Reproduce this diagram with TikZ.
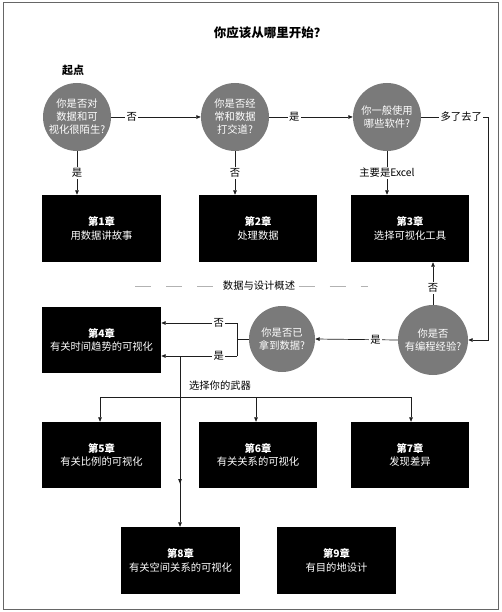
\documentclass[tikz,border=0pt]{standalone}
\usepackage{fontspec}
\setmainfont{Noto Sans CJK SC}
\usetikzlibrary{arrows.meta,calc}
\definecolor{qgray}{RGB}{122,122,122}
\definecolor{lnk}{RGB}{30,30,30}
\begin{document}
\begin{tikzpicture}[x=1pt,y=-1pt,
  q/.style={circle, fill=qgray, text=white, minimum size=68pt, inner sep=0pt, align=center, font=\fontsize{10.3}{13}\selectfont},
  chap/.style={rectangle, fill=black, text=white, minimum width=119pt, minimum height=67pt, inner sep=0pt, align=center, font=\fontsize{10.3}{13.5}\selectfont},
  conn/.style={draw=lnk, line width=0.7pt},
  arr/.style={conn, -{Triangle[length=4.5pt,width=3.6pt]}},
  lab/.style={fill=white, inner sep=1.5pt, font=\fontsize{10.3}{12}\selectfont}
]
\useasboundingbox (0,0) rectangle (501,612);
\draw[draw=black!60, line width=1pt] (3,2.5) rectangle (498.5,609);

\node[font=\fontsize{12.5}{14}\selectfont\bfseries] (title) at (270,33) {你应该从哪里开始？};
\node[font=\fontsize{11}{13}\selectfont\bfseries] (start) at (73,70) {起点};

% question circles
\node[q] (c1) at (77,117) {你是否对\\数据和可\\视化很陌生?};
\node[q] (c2) at (235,117) {你是否经\\常和数据\\打交道?};
\node[q] (c3) at (387,117) {你一般使用\\哪些软件?};
\node[q, minimum size=70pt] (c4) at (433,340) {你是否\\有编程经验?};
\node[q, minimum size=66pt] (c5) at (282,339) {你是否已\\拿到数据?};

% chapter boxes
\node[chap] (b1) at (101.5,228.5) {{\bfseries 第1章}\\用数据讲故事};
\node[chap, minimum width=118pt] (b2) at (258,228.5) {{\bfseries 第2章}\\处理数据};
\node[chap, minimum width=118pt] (b3) at (410,228.5) {{\bfseries 第3章}\\选择可视化工具};
\node[chap, minimum height=66pt] (b4) at (101.5,340) {{\bfseries 第4章}\\有关时间趋势的可视化};
\node[chap, minimum height=66pt] (b5) at (101.5,455) {{\bfseries 第5章}\\有关比例的可视化};
\node[chap, minimum width=118pt, minimum height=66pt] (b6) at (258,455) {{\bfseries 第6章}\\有关关系的可视化};
\node[chap, minimum width=118pt, minimum height=66pt] (b7) at (410,455) {{\bfseries 第7章}\\发现差异};
\node[chap] (b8) at (180.5,560.5) {{\bfseries 第8章}\\有关空间关系的可视化};
\node[chap] (b9) at (336.5,560.5) {{\bfseries 第9章}\\有目的地设计};

% section label with dashes
\node[font=\fontsize{10.3}{12}\selectfont] (sec) at (259,286) {数据与设计概述};
\coordinate (dl1) at (135,286);
\coordinate (dr2) at (368,286);
\draw[black!30, line width=0.7pt, dash pattern=on 16pt off 15pt] (dl1) -- (sec.west);
\draw[black!30, line width=0.7pt, dash pattern=on 16pt off 15pt] (sec.east) -- (dr2);

% top row connectors
\draw[arr] (c1.east) -- node[lab, pos=0.23] {否} (c2.west);
\draw[arr] (c2.east) -- node[lab, pos=0.3] {是} (c3.west);
\draw[arr] (c1.south) -- node[lab] {是} (c1.south |- b1.north);
\draw[arr] (c2.south) -- node[lab] {否} (c2.south |- b2.north);
\draw[arr] (c3.south) -- node[lab] {主要是Excel} (c3.south |- b3.north);

\coordinate (r1) at (488,117);
\coordinate (r2) at (488,340);
\draw[arr] (c3.east) -- node[lab, pos=0.6] {多了去了} (r1) -- (r2) -- (c4.east);

\draw[arr] (c4.north) -- node[lab, pos=0.4] {否} (c4.north |- b3.south);
\draw[arr] (c4.west) -- node[lab, pos=0.27] {是} (c5.east);

% bracket from c5 to chapter 4
\coordinate (k0) at (237,339);
\coordinate (kt) at (237,323);
\coordinate (kb) at (237,356);
\draw[conn] (c5.west) -- (k0);
\draw[conn] (kt) -- (kb);
\draw[arr] (kt) -- node[lab, pos=0.24] {否} (kt -| b4.east);
\draw[arr] (kb) -- node[lab, pos=0.24] {是} (kb -| b4.east);

% choose your weapon
\coordinate (v0) at (180,356);
\coordinate (h1) at (100,397);
\coordinate (h3) at (411,397);
\coordinate (h2) at (256,397);
\draw[conn] (h1) -- (h3);
\node[font=\fontsize{10.3}{12}\selectfont, anchor=south] (weap) at (220,394) {选择你的武器};
\draw[arr] (h1) -- (h1 |- b5.north);
\draw[arr] (h2) -- (h2 |- b6.north);
\draw[arr] (h3) -- (h3 |- b7.north);
\draw[arr] (v0) -- (v0 |- b8.north);
\path (v0) -- coordinate[pos=0.735] (vm) (v0 |- b8.north);
\fill[lnk] ($(vm)+(0,2.2)$) -- ++(-1.8,-4.5) -- ++(3.6,0) -- cycle;
\end{tikzpicture}
\end{document}
